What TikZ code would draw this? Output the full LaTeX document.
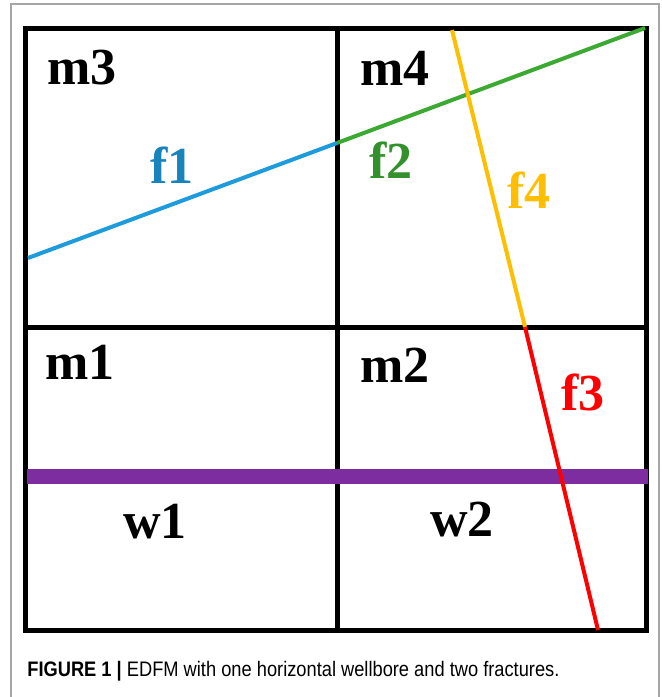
\documentclass[tikz,border=0pt]{standalone}
\usepackage{fontspec}
\setmainfont{Liberation Serif}
\setsansfont{Liberation Sans}
\definecolor{fonebl}{RGB}{30,155,220}
\definecolor{ftwogr}{RGB}{60,170,50}
\definecolor{fthreerd}{RGB}{255,0,0}
\definecolor{ffouryl}{RGB}{255,190,0}
\definecolor{wellpl}{RGB}{125,45,160}
\begin{document}
\begin{tikzpicture}[x=0.5pt, y=-0.5pt,
    grid/.style={line width=2.5pt},
    frac/.style={line width=2pt},
    cell/.style={font=\bfseries\fontsize{26}{26}\selectfont}]
  \useasboundingbox (0,0) rectangle (662,697);
  % frame of the figure
  \draw[black!35, line width=0.75pt] (11,697) -- (11,4) -- (659,4) -- (659,697);
  % matrix blocks
  \draw[grid] (25,28) rectangle (646,630);
  \draw[grid] (337,28) -- (337,630);
  \draw[grid] (25,327) -- (646,327);
  % wellbore
  \coordinate (wl) at (27,476);
  \coordinate (wr) at (648,476);
  \draw[wellpl, line width=7.5pt] (wl) -- (wr);
  % fractures
  \coordinate (a) at (28,258);
  \coordinate (b) at (337,143);
  \coordinate (c) at (645,28);
  \coordinate (d) at (452,30);
  \coordinate (e) at (525,327);
  \coordinate (f) at (598,630);
  \draw[frac, fonebl] (a) -- (b);
  \draw[frac, ftwogr] (b) -- (c);
  \draw[frac, ffouryl] (d) -- (e);
  \draw[frac, fthreerd] (e) -- (f);
  % labels
  \node[cell] at (82,68) (m3) {m3};
  \node[cell] at (395,68) (m4) {m4};
  \node[cell] at (80,362) (m1) {m1};
  \node[cell] at (395,365) (m2) {m2};
  \node[cell] at (155,522) (w1) {w1};
  \node[cell] at (462,520) (w2) {w2};
  \node[cell, fonebl!85!black] at (172,165) (f1) {f1};
  \node[cell, ftwogr!85!black] at (391,160) (f2) {f2};
  \node[cell, ffouryl] at (529,190) (f4) {f4};
  \node[cell, fthreerd] at (583,392) (f3) {f3};
  % caption
  \node[anchor=base west, inner sep=0pt, font=\sffamily\fontsize{10.5}{12}\selectfont] at (27,676) (cap)
    {\scalebox{0.87}[1]{\textbf{FIGURE 1 |} EDFM with one horizontal wellbore and two fractures.}};
\end{tikzpicture}
\end{document}
